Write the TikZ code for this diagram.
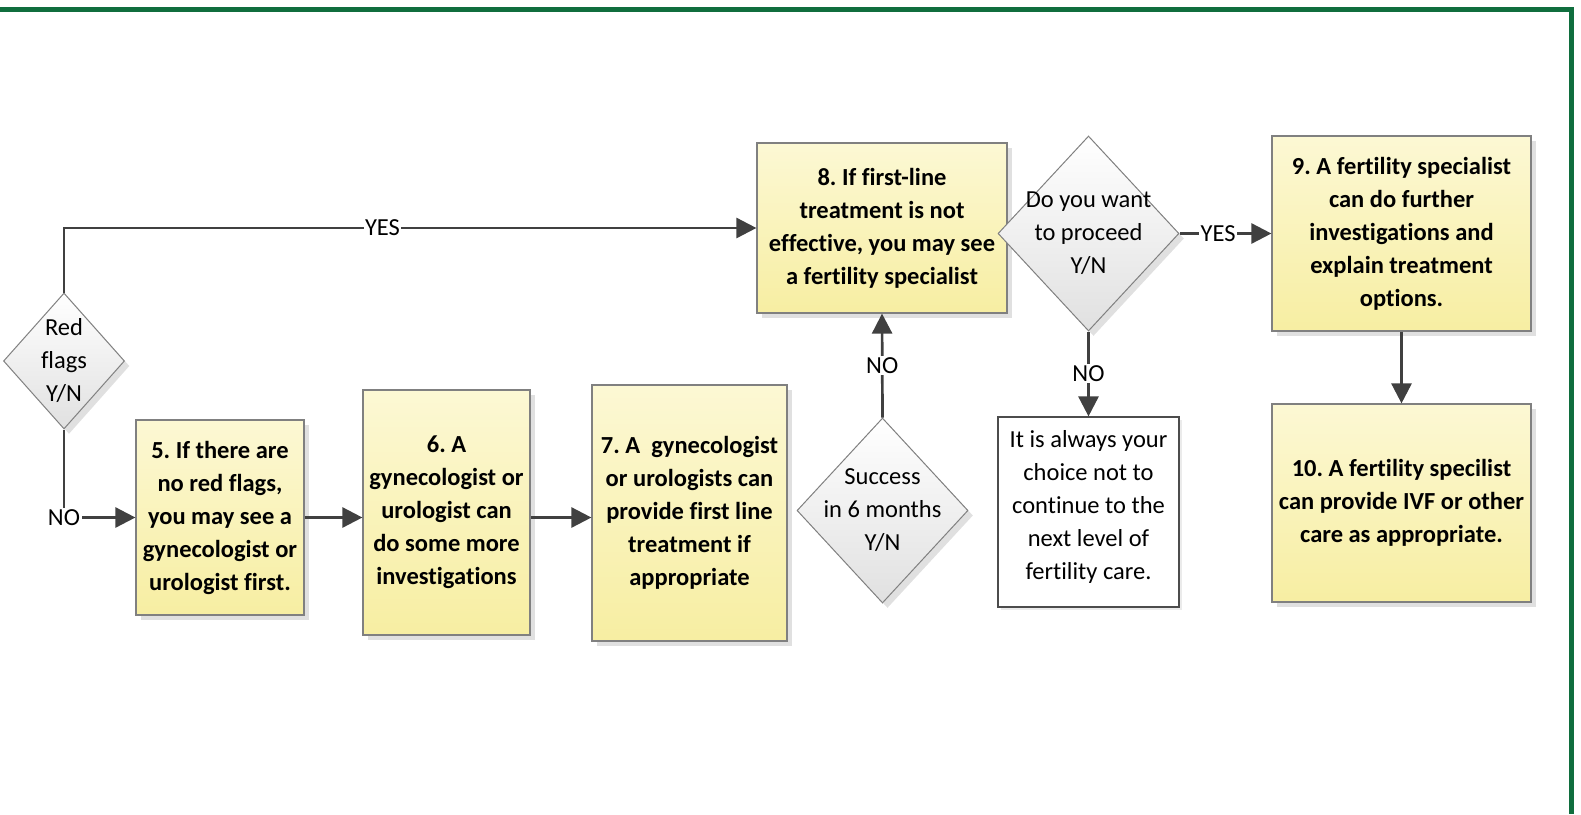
\documentclass[tikz,border=0pt]{standalone}
\usepackage{fontspec}
\setmainfont{Carlito}[Ligatures=NoCommon]
\frenchspacing
\usetikzlibrary{shapes,shadows,arrows.meta}
\definecolor{framegreen}{RGB}{16,110,62}
\definecolor{boxtop}{RGB}{252,248,212}
\definecolor{boxbottom}{RGB}{247,238,162}
\definecolor{linegray}{RGB}{64,64,64}
\definecolor{edgegray}{RGB}{128,128,128}

\begin{document}
\begin{tikzpicture}[
    x=1pt, y=-1pt,
    text centered,
    font=\fontsize{24.5}{33}\selectfont,
	block/.style={
	  rectangle,
	  draw=edgegray,
	  line width=1.2pt,
	  top color=boxtop,
	  bottom color=boxbottom,
	  align=center,
	  inner sep=0pt,
	  font=\fontsize{24.5}{33}\selectfont\bfseries,
	  drop shadow={shadow xshift=5pt, shadow yshift=-5pt, fill=black!12, opacity=1}
	},
	decision/.style={
	  diamond,
	  draw=edgegray,
	  line width=1pt,
	  inner sep=0pt,
	  top color=white,
	  bottom color=black!12,
	  drop shadow={shadow xshift=5pt, shadow yshift=-5pt, fill=black!12, opacity=1}
	},
	choice/.style={
	  rectangle,
	  draw=black!70,
	  line width=1.2pt,
	  fill=white,
	  align=center,
	  inner sep=0pt,
	  drop shadow={shadow xshift=3pt, shadow yshift=-3pt, fill=black!8, opacity=1}
	},
	dtext/.style={align=center, inner sep=0pt},
	lbl/.style={fill=white, inner sep=1.5pt},
 	line/.style={draw=linegray, line width=2.7pt},
 	arrow/.style={line, -{Triangle[length=20pt, width=20pt]}}
	]
	\useasboundingbox (0, 0) rectangle (1581, 814);
	\draw[framegreen, line width=5pt] (0, 9.5) -- (1571, 9.5) -- (1571, 814);

	\node [decision, minimum width=121pt, minimum height=136pt] at (64, 361) (redflags) {};
	\node [dtext] at (redflags) (redflagstext) {Red\\flags\\Y/N};
	\node [block, minimum width=168pt, minimum height=195pt] at (220, 517.5) (box5)
	  {5. If there are\\no red flags,\\you may see a\\gynecologist or\\urologist first.};
	\node [block, minimum width=167pt, minimum height=245pt] at (446.5, 512.5) (box6)
	  {6. A\\gynecologist or\\urologist can\\do some more\\investigations};
	\node [block, minimum width=195pt, minimum height=256pt] at (689.5, 513) (box7)
	  {7. A\ \ gynecologist\\or urologists can\\provide first line\\treatment if\\appropriate};
	\node [decision, minimum width=171pt, minimum height=185pt] at (882.5, 510.5) (success) {};
	\node [dtext] at (success) (successtext) {Success\\in 6 months\\Y/N};
	\node [block, minimum width=250pt, minimum height=170pt] at (882, 228) (box8)
	  {8. If first-line\\treatment is not\\effective, you may see\\a fertility specialist};
	\node [decision, minimum width=181pt, minimum height=195pt] at (1088.5, 233.5) (proceed) {};
	\node [dtext] at (proceed) (proceedtext) {Do you want\\to proceed\\Y/N};
	\node [choice, minimum width=181pt, minimum height=190pt] at (1088.5, 512) (stop) {};
	\node [dtext] at (1088.5, 507) (stoptext)
	  {It is always your\\choice not to\\continue to the\\next level of\\fertility care.};
	\node [block, minimum width=259pt, minimum height=195pt] at (1401.5, 233.5) (box9)
	  {9. A fertility specialist\\can do further\\investigations and\\explain treatment\\options.};
	\node [block, minimum width=259pt, minimum height=198pt] at (1401.5, 503) (box10)
	  {10. A fertility specilist\\can provide IVF or other\\care as appropriate.};

	\draw[arrow] (redflags.north) |- node [lbl, pos=0.73] {YES} (box8.west);
	\draw[arrow] (redflags.south) |- node [lbl, pos=0.5] {NO} (box5.west);
	\draw[arrow] (box5.east) -- (box5.east -| box6.west);
	\draw[arrow] (box6.east |- box5.east) -- (box5.east -| box7.west);
	\draw[arrow] (success.north) -- node [lbl] {NO} (box8.south);
	\draw[arrow] (proceed.south) -- node [lbl] {NO} (stop.north);
	\draw[arrow] (proceed.east) -- node [lbl, pos=0.42] {YES} (box9.west);
	\draw[arrow] (box9.south) -- (box10.north);
  \end{tikzpicture}
\end{document}
